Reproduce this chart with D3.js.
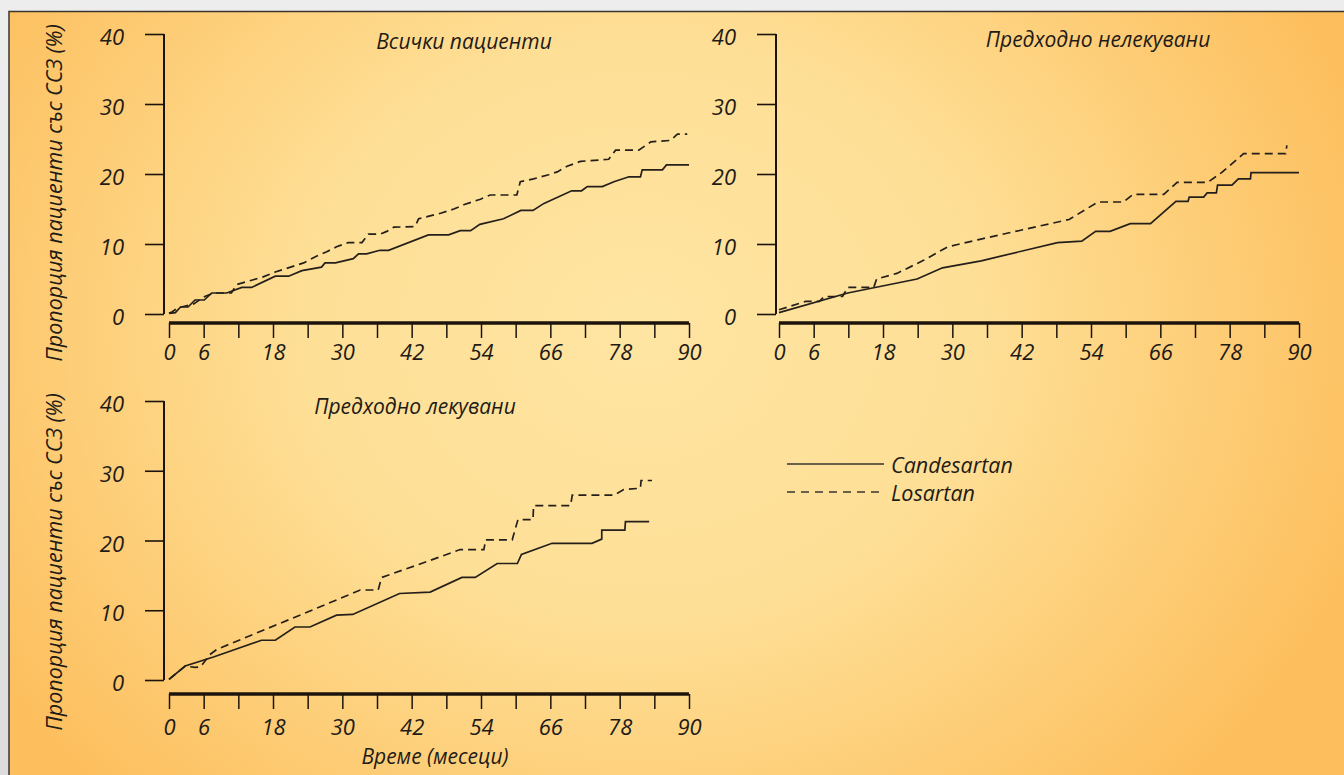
<!DOCTYPE html>
<html>
<head>
<meta charset="utf-8">
<script src="https://cdn.jsdelivr.net/npm/d3@7"></script>
<style>
  html, body { margin: 0; padding: 0; background: #e4e4e4; }
  svg { display: block; }
  text { font-family: "Open Sans", "Noto Sans", sans-serif; font-style: italic; fill: #1f1b16; }
</style>
</head>
<body>
<svg id="chart" width="1344" height="775"></svg>
<script>
// ---------- DATA ----------
const xTicks = [0, 6, 12, 18, 24, 30, 36, 42, 48, 54, 60, 66, 72, 78, 84, 90];
const xTickLabels = [0, 6, 18, 30, 42, 54, 66, 78, 90];
const yTicks = [0, 10, 20, 30, 40];
const panelTitles = ["Всички пациенти", "Предходно нелекувани", "Предходно лекувани"];
const seriesNames = ["Candesartan", "Losartan"];
const yAxisTitle = "Пропорция пациенти със ССЗ (%)";
const xAxisTitle = "Време (месеци)";

// [month, %]
const allCandesartan = [[0,0.1],[1.1,0.2],[2,1.0],[3.3,1.0],[4.5,2.0],[6.1,2.0],[7.4,3.0],[10,3.0],[12.6,3.8],[14.3,3.8],[18.4,5.4],[20.7,5.4],[23,6.2],[26.4,6.7],[27,7.3],[28.8,7.3],[31.9,7.9],[32.8,8.6],[34.2,8.6],[36.5,9.1],[38,9.1],[44.9,11.3],[48.4,11.3],[50.4,11.9],[52.2,11.9],[53.8,12.8],[57.9,13.6],[60.9,14.8],[63,14.8],[64.9,15.8],[69.7,17.6],[71.4,17.6],[72.4,18.2],[75,18.2],[77,18.9],[79.6,19.6],[81.6,19.6],[81.9,20.6],[85.4,20.6],[86.1,21.3],[90,21.3]];
const allLosartan = [[0,0.1],[0.5,0.3],[1.6,0.9],[4.2,1.4],[6.2,2.5],[7.7,3.0],[10.8,3.0],[11.7,4.2],[14.6,4.9],[16.3,5.3],[18.4,6.0],[21.8,6.9],[23.3,7.3],[25.6,8.3],[27.3,8.9],[29,9.6],[31,10.2],[33.4,10.2],[34.5,11.4],[36.5,11.4],[37.7,11.8],[38.9,12.4],[42.6,12.5],[43.2,13.6],[47,14.4],[49.3,15.0],[51,15.6],[53.9,16.4],[55.6,17.0],[60.2,17.0],[60.8,18.9],[63.1,19.3],[65.7,19.9],[67.2,20.3],[68.9,21.1],[71.2,21.8],[76.1,22.1],[77.3,23.4],[81.3,23.4],[83.4,24.6],[86.8,24.8],[88,25.7],[89.7,25.7]];

const naiveCandesartan = [[0,0.2],[11.9,3.0],[23.9,5.0],[28.3,6.6],[35,7.6],[48.2,10.2],[52.4,10.4],[54.8,11.8],[57.3,11.8],[60.8,12.9],[64.3,12.9],[68.7,16.1],[70.8,16.1],[71,16.7],[73.5,16.7],[74.1,17.3],[75.7,17.3],[75.9,18.4],[78.4,18.4],[79.5,19.3],[81.6,19.3],[81.7,20.2],[90,20.2]];
const naiveLosartan = [[0,0.6],[4.6,1.8],[7.0,1.8],[7.8,2.5],[11,2.5],[11.9,3.8],[16.4,3.8],[16.9,5.0],[20.4,5.8],[25.1,7.7],[29.2,9.6],[34.4,10.6],[42,12.0],[50.2,13.5],[55.2,16.0],[59.6,16.0],[61.3,17.1],[66.6,17.1],[68.9,18.8],[74.2,18.8],[76.6,20.2],[80.4,22.9],[87.7,22.9],[87.9,24.1]];

const treatedCandesartan = [[0,0.1],[2.8,2.0],[7.7,3.3],[16,5.7],[18.4,5.7],[21.8,7.6],[24.4,7.6],[29,9.3],[31.8,9.4],[39.9,12.4],[45.2,12.6],[50.7,14.7],[53,14.7],[56.8,16.7],[60.3,16.7],[61,18.0],[66.3,19.6],[73.2,19.6],[74.9,20.2],[74.9,21.5],[78.9,21.5],[79,22.7],[83.1,22.7]];
const treatedLosartan = [[0,0.1],[2.8,2.0],[4.5,1.8],[5.5,1.9],[7.0,3.6],[8.3,4.4],[25.6,10.3],[33.1,12.9],[36.2,12.9],[36.8,14.7],[44.7,17.0],[50.4,18.7],[54.5,18.7],[54.8,20.1],[59.4,20.1],[60.4,23.0],[63,23.0],[63.1,25.0],[69.5,25.0],[69.8,26.5],[77,26.5],[78.7,27.3],[81.6,27.5],[81.7,28.6],[83.6,28.6]];

// ---------- LAYOUT ----------
const W = 1344, H = 775;
const svg = d3.select("#chart");
const defs = svg.append("defs");
const grad = defs.append("radialGradient").attr("id", "bg")
  .attr("gradientUnits", "userSpaceOnUse")
  .attr("cx", 640).attr("cy", 330).attr("r", 760)
  .attr("gradientTransform", "translate(640,330) scale(1,0.85) translate(-640,-330)");
grad.append("stop").attr("offset", "0%").attr("stop-color", "#fee5a2");
grad.append("stop").attr("offset", "45%").attr("stop-color", "#fedf96");
grad.append("stop").attr("offset", "100%").attr("stop-color", "#fdbf5e");

const outer = defs.append("linearGradient").attr("id", "outer").attr("x1", 0).attr("y1", 0).attr("x2", 0).attr("y2", 1);
outer.append("stop").attr("offset", "0%").attr("stop-color", "#ededed");
outer.append("stop").attr("offset", "100%").attr("stop-color", "#dcdcdc");

svg.append("rect").attr("width", W).attr("height", H).attr("fill", "url(#outer)");
svg.append("rect").attr("x", 9).attr("y", 11.5).attr("width", W - 9).attr("height", H - 11.5)
  .attr("fill", "url(#bg)");
svg.append("path").attr("d", `M9,${H} V11.5 H${W}`).attr("fill", "none")
  .attr("stroke", "#3a3530").attr("stroke-width", 1.5);

const panels = [
  { title: panelTitles[0], cand: allCandesartan, los: allLosartan, yAxisX: 164, xr: [169, 689], yr: [314, 34], xAxisY: 323, labelDy: 29, titlePos: [464, 42], yTitle: [54, 193] },
  { title: panelTitles[1], cand: naiveCandesartan, los: naiveLosartan, yAxisX: 776, xr: [779, 1299], yr: [314, 34], xAxisY: 323, labelDy: 29, titlePos: [1098, 40], yTitle: null },
  { title: panelTitles[2], cand: treatedCandesartan, los: treatedLosartan, yAxisX: 164, xr: [169, 689], yr: [680, 401], xAxisY: 694, labelDy: 33, titlePos: [415, 407], yTitle: [54, 562] }
];

const ink = "#1c140c";
const lineInk = "#241f1a";

panels.forEach(p => {
  const x = d3.scaleLinear().domain([0, 90]).range(p.xr);
  const y = d3.scaleLinear().domain([0, 40]).range(p.yr);
  const g = svg.append("g");

  // y axis
  const yAxis = d3.axisLeft(y).tickValues(yTicks).tickSize(19).tickPadding(21).tickFormat(d3.format("d"));
  const ya = g.append("g").attr("transform", `translate(${p.yAxisX},0)`).call(yAxis);
  ya.select(".domain").attr("stroke", ink).attr("stroke-width", 2).attr("d", `M0,${y(40)}V${y(0)}`);
  ya.selectAll(".tick line").attr("stroke", ink).attr("stroke-width", 1.6);
  ya.selectAll(".tick text").attr("font-size", 22).attr("font-family", null).attr("fill", "#1f1b16").attr("dy", "0.48em");

  // x axis
  const xAxis = d3.axisBottom(x).tickValues(xTicks).tickSize(15).tickPadding(4)
    .tickFormat(d => xTickLabels.includes(d) ? d : "");
  const xa = g.append("g").attr("transform", `translate(0,${p.xAxisY})`).call(xAxis);
  xa.select(".domain").attr("stroke", ink).attr("stroke-width", 3.5).attr("d", `M${x(0)},0H${x(90)}`);
  xa.selectAll(".tick line").attr("stroke", ink).attr("stroke-width", 1.5);
  xa.selectAll(".tick text").attr("font-size", 22).attr("font-family", null).attr("fill", "#1f1b16")
    .attr("y", p.labelDy).attr("dy", "0.35em");

  // curves
  const line = d3.line().x(d => x(d[0])).y(d => y(d[1]));
  g.append("path").datum(p.cand).attr("d", line).attr("fill", "none")
    .attr("stroke", lineInk).attr("stroke-width", 1.7).attr("stroke-linejoin", "miter");
  g.append("path").datum(p.los).attr("d", line).attr("fill", "none")
    .attr("stroke", lineInk).attr("stroke-width", 1.7).attr("stroke-dasharray", "8,5");

  // title
  g.append("text").attr("x", p.titlePos[0]).attr("y", p.titlePos[1]).attr("dy", "0.35em")
    .attr("text-anchor", "middle").attr("font-size", 21).text(p.title);

  if (p.yTitle) {
    g.append("text").attr("transform", `translate(${p.yTitle[0]},${p.yTitle[1]}) rotate(-90)`)
      .attr("dy", "0.35em").attr("text-anchor", "middle").attr("font-size", 21.5).text(yAxisTitle);
  }
});

// x axis title
svg.append("text").attr("x", 435).attr("y", 757).attr("dy", "0.35em").attr("text-anchor", "middle")
  .attr("font-size", 21).text(xAxisTitle);

// legend
const legend = svg.append("g");
[{ name: seriesNames[0], dash: null, y: 464 }, { name: seriesNames[1], dash: "8,6", y: 492 }].forEach(l => {
  legend.append("line").attr("x1", 787).attr("x2", 884).attr("y1", l.y).attr("y2", l.y)
    .attr("stroke", "#3a3530").attr("stroke-width", 1.6).attr("stroke-dasharray", l.dash);
  legend.append("text").attr("x", 891).attr("y", l.y + 1).attr("dy", "0.35em")
    .attr("font-size", 21.5).text(l.name);
});
</script>
</body>
</html>
